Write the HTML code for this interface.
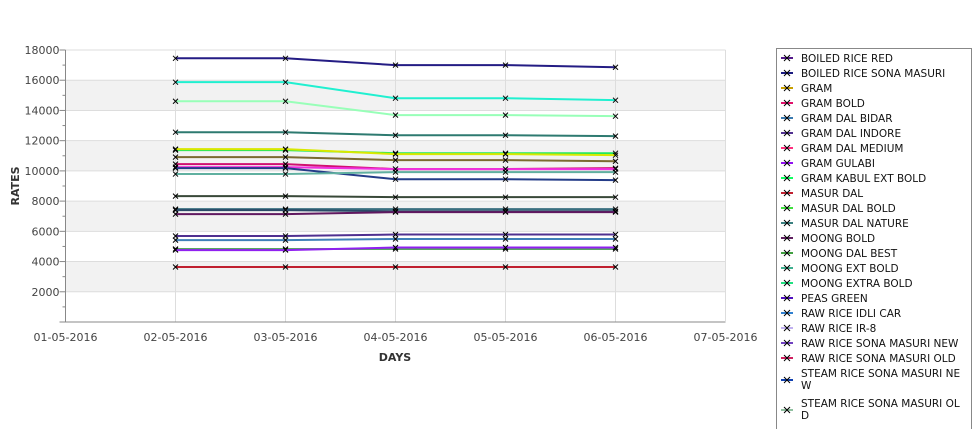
<!DOCTYPE html>
<html><head><meta charset="utf-8"><style>
body{margin:0;background:#fff;width:975px;height:429px;overflow:hidden;font-family:"DejaVu Sans","Liberation Sans",sans-serif}
svg text{font-family:"DejaVu Sans","Liberation Sans",sans-serif}
</style></head><body>
<svg id="chart" width="975" height="429" xmlns="http://www.w3.org/2000/svg"></svg>
<script>
const dates = ["01-05-2016","02-05-2016","03-05-2016","04-05-2016","05-05-2016","06-05-2016","07-05-2016"];
const yTicks = [2000,4000,6000,8000,10000,12000,14000,16000,18000];
const legendNames = ["BOILED RICE RED","BOILED RICE SONA MASURI","GRAM","GRAM BOLD","GRAM DAL BIDAR","GRAM DAL INDORE","GRAM DAL MEDIUM","GRAM GULABI","GRAM KABUL EXT BOLD","MASUR DAL","MASUR DAL BOLD","MASUR DAL NATURE","MOONG BOLD","MOONG DAL BEST","MOONG EXT BOLD","MOONG EXTRA BOLD","PEAS GREEN","RAW RICE IDLI CAR","RAW RICE IR-8","RAW RICE SONA MASURI NEW","RAW RICE SONA MASURI OLD","STEAM RICE SONA MASURI NE|W","STEAM RICE SONA MASURI OL|D","TUR DAL DESHI"];
const legendColors = ["#551a8b","#1a1a80","#c8a000","#e0106a","#3a7ab0","#503090","#ff3080","#9010f0","#10ff60","#c02030","#40e040","#3a8080","#602060","#40a040","#40b090","#20e080","#5010c0","#3080d0","#c0b0f0","#7040c0","#d02060","#1040b0","#90c0a0","#808080"];
// series values at dates index 1..5
const sBoiledRed  = [17450,17450,17000,17000,16860];
const sCyan       = [15870,15870,14810,14810,14680];
const sLightGreen = [14610,14610,13690,13690,13620];
const sTeal       = [12560,12560,12360,12360,12300];
const sYellow     = [11440,11440,11110,11110,11040];
const sGreen      = [11370,11370,11170,11170,11170];
const sOlive      = [10910,10910,10710,10710,10640];
const sCrimson    = [10450,10450,10120,10120,10180];
const sMagenta    = [10250,10250,10120,10120,10120];
const sNavy       = [10180,10180,9450,9450,9390];
const sSea        = [9790,9790,9920,9920,9920];
const sDarkGreen  = [8330,8330,8260,8260,8260];
const sTealBlue   = [7470,7470,7470,7470,7470];
const sSlate      = [7400,7400,7330,7330,7330];
const sPlum       = [7140,7140,7270,7270,7270];
const sIndigo     = [5690,5690,5790,5790,5790];
const sSteel      = [5420,5420,5490,5490,5490];
const sMidGreen   = [4830,4830,4830,4830,4830];
const sViolet     = [4760,4760,4930,4930,4930];
const sRed        = [3640,3640,3640,3640,3640];
const series = [
 [sBoiledRed,"#241c84","series-boiled-rice-red"],[sCyan,"#20f0d0","series-cyan"],[sLightGreen,"#98ffb8","series-light-green"],
 [sTeal,"#2e7a70","series-teal"],[sGreen,"#20e860","series-green"],[sYellow,"#d8e800","series-yellow"],[sOlive,"#7a6a30","series-olive"],
 [sCrimson,"#d01070","series-crimson"],[sMagenta,"#f030e0","series-magenta"],[sNavy,"#243c88","series-navy"],[sSea,"#60b0a0","series-sea"],
 [sDarkGreen,"#384838","series-dark-green"],[sTealBlue,"#3a7080","series-teal-blue"],[sSlate,"#2a4a68","series-slate"],[sPlum,"#601860","series-plum"],
 [sIndigo,"#503090","series-indigo"],[sSteel,"#4080b8","series-steel"],[sMidGreen,"#58a860","series-mid-green"],[sViolet,"#9020f0","series-violet"],[sRed,"#c02030","series-red"]
];
const NS="http://www.w3.org/2000/svg", svg=document.getElementById('chart');
const X0=65.5,X1=725.5,Y0=322,Y1=50;
const xs=i=>X0+(X1-X0)*i/6, ys=v=>Y0-(Y0-Y1)*v/18000;
function mk(t,a,p){const e=document.createElementNS(NS,t);for(const k in a)e.setAttribute(k,a[k]);(p||svg).appendChild(e);return e;}
// bands
for(let b=0;b<4;b++){const lo=2000+b*4000,hi=lo+2000;
 const r=mk('rect',{x:X0,y:ys(hi),width:X1-X0,height:ys(lo)-ys(hi),fill:'#f2f2f2'});
 
 }
yTicks.forEach(v=>{const l=mk('line',{x1:X0,x2:X1,y1:ys(v),y2:ys(v),stroke:'#ddd'});
 
 
 const t=mk('text',{x:X0-6,y:ys(v)+4,'text-anchor':'end','font-size':11,fill:'#444'});t.textContent=v;
 
 });
for(let v=1000;v<18000;v+=2000){mk('line',{x1:X0-3,x2:X0,y1:ys(v),y2:ys(v),stroke:'#888'});}
yTicks.forEach(v=>mk('line',{x1:X0-6,x2:X0,y1:ys(v),y2:ys(v),stroke:'#888'}));
dates.forEach((d,i)=>{if(i>0)mk('line',{x1:xs(i),x2:xs(i),y1:Y1,y2:Y0,stroke:'#ddd'});
 const t=mk('text',{x:xs(i),y:341,'text-anchor':'middle','font-size':11,fill:'#444'});t.textContent=d;
 
 });
mk('line',{x1:X0,x2:X0,y1:Y1,y2:Y0,stroke:'#888'});mk('line',{x1:X0-6,x2:X1,y1:Y0,y2:Y0,stroke:'#888'});
mk('line',{x1:X1,x2:X1,y1:Y1,y2:Y0,stroke:'#ddd'});
let t=mk('text',{x:0,y:0,transform:'translate(19,186) rotate(-90)','text-anchor':'middle','font-size':11,'font-weight':'bold',fill:'#333'});t.textContent='RATES';


t=mk('text',{x:395,y:361,'text-anchor':'middle','font-size':11,'font-weight':'bold',fill:'#333'});t.textContent='DAYS';


series.forEach(([vals,c,n])=>{
 const pl=mk('polyline',{points:vals.map((v,i)=>xs(i+1)+','+ys(v)).join(' '),fill:'none',stroke:c,'stroke-width':2});
 
 
 vals.forEach((v,i)=>{const x=xs(i+1),y=ys(v);mk('path',{d:`M${x-2.5},${y-2.5}L${x+2.5},${y+2.5}M${x-2.5},${y+2.5}L${x+2.5},${y-2.5}`,stroke:'#000','stroke-width':1});});
});
// legend
const lg=mk('g',{});


mk('rect',{x:776.5,y:48.5,width:195,height:400,fill:'#fff',stroke:'#888'},lg);
let y=58;
legendNames.forEach((n,i)=>{const parts=n.split('|');const cy=parts.length>1?y+7:y;
 const g=mk('g',{},lg);
 
 
 mk('line',{x1:781,x2:793,y1:cy,y2:cy,stroke:legendColors[i],'stroke-width':2},g);
 mk('path',{d:`M784,${cy-3}L790,${cy+3}M784,${cy+3}L790,${cy-3}`,stroke:'#000'},g);
 parts.forEach((p,j)=>{const tx=mk('text',{x:801,y:y+4+j*12,'font-size':10.5,fill:'#111'},g);tx.textContent=p;});
 y+=parts.length>1?30:15;});
</script>
</body></html>
